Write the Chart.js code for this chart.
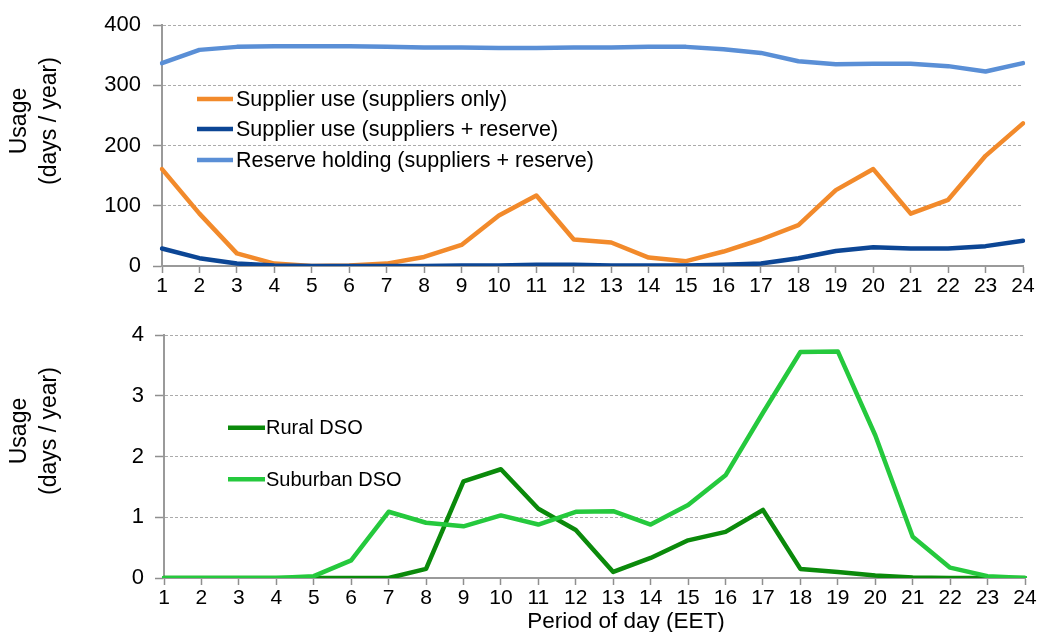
<!DOCTYPE html>
<html>
<head>
<meta charset="utf-8">
<script src="https://cdn.jsdelivr.net/npm/chart.js@4.4.1/dist/chart.umd.min.js"></script>
<style>
html,body{margin:0;padding:0;background:#fff;}
#wrap{position:relative;width:1040px;height:632px;overflow:hidden;background:#fff;}
.box{position:absolute;left:0;width:1040px;}
#b1{top:0;height:310px;}
#b2{top:310px;height:322px;}
canvas{display:block;}
</style>
</head>
<body>
<div id="wrap">
  <div class="box" id="b1"><canvas id="c1" width="1040" height="310"></canvas></div>
  <div class="box" id="b2"><canvas id="c2" width="1040" height="322"></canvas></div>
</div>
<script>
// ---------- data ----------
const periods = ['1','2','3','4','5','6','7','8','9','10','11','12','13','14','15','16','17','18','19','20','21','22','23','24'];

const supplierOnlyLabel = 'Supplier use (suppliers only)';
const supplierReserveLabel = 'Supplier use (suppliers + reserve)';
const reserveHoldingLabel = 'Reserve holding (suppliers + reserve)';
const supplierOnly    = [161, 87, 21, 4, 0, 1, 4, 15, 35, 84, 117, 44, 39, 14, 8, 24, 44, 68, 126, 161, 87, 110, 183, 237];
const supplierReserve = [29, 13, 4, 1, 0, 0, 0, 0, 1, 1, 2, 2, 1, 1, 1, 2, 4, 13, 25, 31, 29, 29, 33, 42];
const reserveHolding  = [337, 359, 364, 365, 365, 365, 364, 363, 363, 362, 362, 363, 363, 364, 364, 360, 354, 340, 335, 336, 336, 332, 323, 337];

const ruralLabel = 'Rural DSO';
const suburbanLabel = 'Suburban DSO';
const rural    = [0, 0, 0, 0, 0, 0, 0, 0.15, 1.59, 1.79, 1.14, 0.79, 0.1, 0.33, 0.62, 0.76, 1.12, 0.15, 0.1, 0.04, 0.01, 0, 0, 0];
const suburban = [0, 0, 0, 0, 0.03, 0.29, 1.09, 0.91, 0.85, 1.03, 0.88, 1.09, 1.1, 0.88, 1.2, 1.69, 2.72, 3.72, 3.73, 2.35, 0.68, 0.17, 0.03, 0];

const topTicks = [0, 100, 200, 300, 400];
const bottomTicks = [0, 1, 2, 3, 4];
const yTitleLines = ['Usage', '(days / year)'];
const xTitle = 'Period of day (EET)';

// ---------- styling ----------
const FONT = '"Liberation Sans", Arial, Helvetica, sans-serif';

const insideLegend = {
  id: 'insideLegend',
  afterDatasetsDraw(chart, args, opts) {
    const ctx = chart.ctx;
    ctx.save();
    chart.data.datasets.forEach((ds, i) => {
      const y = opts.rows[i];
      ctx.strokeStyle = ds.borderColor;
      ctx.lineWidth = 4.5;
      ctx.lineCap = 'butt';
      ctx.beginPath();
      ctx.moveTo(opts.x, y);
      ctx.lineTo(opts.x + opts.len, y);
      ctx.stroke();
      ctx.fillStyle = '#000';
      ctx.font = opts.font;
      ctx.textAlign = 'left';
      ctx.textBaseline = 'middle';
      ctx.fillText(ds.label, opts.x + opts.len + opts.gap, y + 1);
    });
    ctx.restore();
  }
};

const sideTitles = {
  id: 'sideTitles',
  afterDraw(chart, args, opts) {
    const ctx = chart.ctx;
    ctx.save();
    ctx.fillStyle = '#000';
    (opts.vertical || []).forEach(t => {
      ctx.save();
      ctx.font = opts.font;
      ctx.translate(t.x, t.y);
      ctx.rotate(-Math.PI / 2);
      ctx.textAlign = 'center';
      ctx.textBaseline = 'alphabetic';
      ctx.fillText(t.text, 0, 0);
      ctx.restore();
    });
    (opts.horizontal || []).forEach(t => {
      ctx.font = t.font || opts.font;
      ctx.textAlign = 'center';
      ctx.textBaseline = 'alphabetic';
      ctx.fillText(t.text, t.x, t.y);
    });
    ctx.restore();
  }
};

function makeOptions(cfg) {
  return {
    responsive: false,
    animation: false,
    layout: { padding: { left: 0, right: cfg.padRight, top: cfg.padTop, bottom: 0 } },
    elements: {
      point: { radius: 0, hoverRadius: 0 },
      line: { tension: 0, borderWidth: 4.5, borderJoinStyle: 'round', borderCapStyle: 'round' }
    },
    plugins: {
      legend: { display: false },
      tooltip: { enabled: false },
      insideLegend: cfg.legend,
      sideTitles: cfg.titles
    },
    scales: {
      x: {
        type: 'category',
        offset: false,
        grid: { drawOnChartArea: false, drawTicks: true, tickLength: 7, tickColor: '#8f8f8f', tickWidth: 1.5 },
        border: { display: true, color: '#9a9a9a', width: 2 },
        ticks: { color: '#000', font: { family: FONT, size: 21 }, padding: 1, maxRotation: 0, autoSkip: false },
        afterFit(scale) { scale.height = cfg.xHeight; }
      },
      y: {
        min: cfg.ticks[0],
        max: cfg.ticks[cfg.ticks.length - 1],
        afterBuildTicks(scale) { scale.ticks = cfg.ticks.map(v => ({ value: v })); },
        grid: { color: '#ababab', lineWidth: 1, drawTicks: true, tickLength: 9, tickColor: '#8f8f8f', tickWidth: 1.5, tickBorderDash: [] },
        border: { display: true, color: '#9a9a9a', width: 2, dash: [3, 2] },
        ticks: { color: '#000', font: { family: FONT, size: 22 }, padding: cfg.yPad },
        afterFit(scale) { scale.width = cfg.yWidth; }
      }
    }
  };
}

// ---------- top chart ----------
new Chart(document.getElementById('c1'), {
  type: 'line',
  data: {
    labels: periods,
    datasets: [
      { label: supplierOnlyLabel, data: supplierOnly, borderColor: '#F28A2B', order: 1 },
      { label: supplierReserveLabel, data: supplierReserve, borderColor: '#0C4695', order: 0 },
      { label: reserveHoldingLabel, data: reserveHolding, borderColor: '#5A8FD6', order: 2 }
    ]
  },
  options: makeOptions({
    padTop: 24, padRight: 17, xHeight: 44, yWidth: 162, yPad: 12,
    ticks: topTicks,
    legend: { x: 197, len: 36, gap: 3, rows: [99, 129, 160], font: '21.5px ' + FONT },
    titles: {
      font: '23px ' + FONT,
      vertical: [
        { text: yTitleLines[0], x: 26, y: 121 },
        { text: yTitleLines[1], x: 55.5, y: 121 }
      ]
    }
  }),
  plugins: [insideLegend, sideTitles]
});

// ---------- bottom chart ----------
new Chart(document.getElementById('c2'), {
  type: 'line',
  data: {
    labels: periods,
    datasets: [
      { label: ruralLabel, data: rural, borderColor: '#0B8A0B', order: 1 },
      { label: suburbanLabel, data: suburban, borderColor: '#25C93D', order: 0 }
    ]
  },
  options: makeOptions({
    padTop: 25, padRight: 15, xHeight: 54, yWidth: 164, yPad: 11,
    ticks: bottomTicks,
    legend: { x: 228, len: 37, gap: 1, rows: [117.7, 169.3], font: '20px ' + FONT },
    titles: {
      font: '23px ' + FONT,
      vertical: [
        { text: yTitleLines[0], x: 26, y: 121 },
        { text: yTitleLines[1], x: 55.5, y: 121 }
      ],
      horizontal: [
        { text: xTitle, x: 626, y: 318, font: '22.5px ' + FONT }
      ]
    }
  }),
  plugins: [insideLegend, sideTitles]
});
</script>
</body>
</html>
